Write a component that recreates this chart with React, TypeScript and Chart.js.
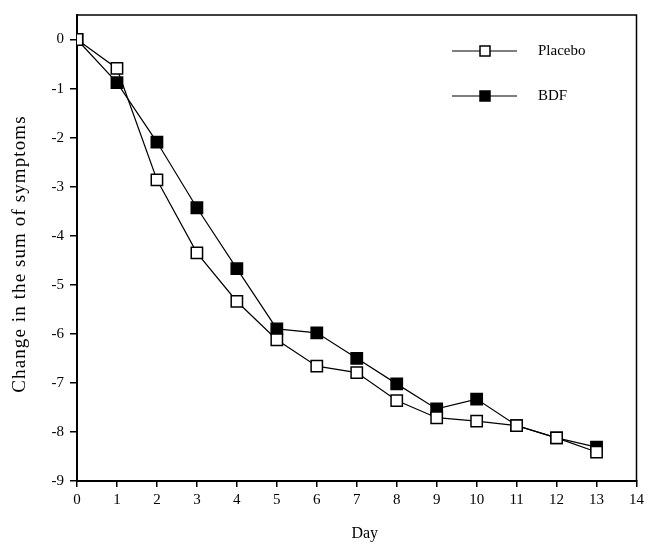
import React, { useEffect, useRef } from "react";
import { Chart, registerables } from "chart.js";

Chart.register(...registerables);

const days = [0, 1, 2, 3, 4, 5, 6, 7, 8, 9, 10, 11, 12, 13];
const placebo = [0, -0.59, -2.86, -4.35, -5.34, -6.12, -6.66, -6.79, -7.36, -7.71, -7.78, -7.87, -8.12, -8.41];
const bdf = [0, -0.88, -2.09, -3.43, -4.67, -5.9, -5.98, -6.5, -7.02, -7.53, -7.33, -7.87, -8.12, -8.31];
const legendLabels = ["Placebo", "BDF"];
const xTitle = "Day";
const yTitle = "Change in the sum of symptoms";

const FONT = "'Liberation Serif', 'Times New Roman', serif";

export default function App() {
  const ref = useRef<HTMLCanvasElement>(null);
  useEffect(() => {
    document.body.style.margin = "0";
    const canvas = ref.current!;
    const frame = {
      id: "frame",
      afterDraw(chart: any) {
        const { ctx, chartArea: a } = chart;
        ctx.save();
        ctx.strokeStyle = "#000";
        ctx.lineWidth = 1.5;
        ctx.beginPath();
        ctx.moveTo(a.left, a.top);
        ctx.lineTo(a.right, a.top);
        ctx.lineTo(a.right, a.bottom);
        ctx.stroke();
        // axis titles
        ctx.fillStyle = "#000";
        ctx.font = `16px ${FONT}`;
        ctx.textAlign = "center";
        ctx.textBaseline = "middle";
        ctx.fillText(xTitle, (a.left + a.right) / 2 + 8, 534);
        ctx.save();
        ctx.translate(20, 254);
        ctx.rotate(-Math.PI / 2);
        ctx.font = `19px ${FONT}`;
        (ctx as any).letterSpacing = "1.1px";
        ctx.fillText(yTitle, 0, 0);
        ctx.restore();
        // legend
        const items = [
          { label: legendLabels[0], fill: "#fff", y: 51 },
          { label: legendLabels[1], fill: "#000", y: 96 },
        ];
        items.forEach((it) => {
          ctx.lineWidth = 1.2;
          ctx.beginPath();
          ctx.moveTo(452, it.y);
          ctx.lineTo(517, it.y);
          ctx.stroke();
          ctx.fillStyle = it.fill;
          ctx.fillRect(480, it.y - 5, 10, 10);
          ctx.lineWidth = 1.5;
          ctx.strokeRect(480, it.y - 5, 10, 10);
          ctx.fillStyle = "#000";
          ctx.textAlign = "left";
          ctx.font = `15px ${FONT}`;
          ctx.fillText(it.label, 538, it.y);
        });
        ctx.restore();
      },
    };
    const intOnly = (s: any) => {
      s.ticks = s.ticks.filter((t: any) => Number.isInteger(t.value));
    };
    const chart = new Chart(canvas, {
      type: "line",
      data: {
        labels: days,
        datasets: [
          {
            label: legendLabels[0],
            data: days.map((d, i) => ({ x: d, y: placebo[i] })),
            borderColor: "#000",
            borderWidth: 1.2,
            backgroundColor: "#fff",
            pointStyle: "rect",
            pointRadius: 8,
            pointBorderWidth: 1.5,
            pointBackgroundColor: "#fff",
            pointBorderColor: "#000",
            tension: 0,
          },
          {
            label: legendLabels[1],
            data: days.map((d, i) => ({ x: d, y: bdf[i] })),
            borderColor: "#000",
            borderWidth: 1.2,
            backgroundColor: "#000",
            pointStyle: "rect",
            pointRadius: 8,
            pointBorderWidth: 1.5,
            pointBackgroundColor: "#000",
            pointBorderColor: "#000",
            tension: 0,
          },
        ],
      },
      options: {
        animation: false,
        responsive: false,
        layout: { padding: { top: 12, right: 10, left: 0, bottom: 0 } },
        plugins: { legend: { display: false }, tooltip: { enabled: false } },
        scales: {
          x: {
            type: "linear",
            min: 0,
            max: 14,
            afterBuildTicks: intOnly,
            ticks: { stepSize: 1, color: "#000", font: { family: FONT, size: 15 }, padding: 4, maxRotation: 0, autoSkip: false },
            grid: { drawOnChartArea: false, drawTicks: true, tickLength: 6, color: "#000", lineWidth: 1.5 },
            border: { display: true, color: "#000", width: 2 },
            afterFit: (s: any) => { s.height = 64; },
          },
          y: {
            type: "linear",
            min: -9,
            max: 0.5,
            afterBuildTicks: intOnly,
            ticks: { stepSize: 1, color: "#000", font: { family: FONT, size: 15 }, padding: 6 },
            grid: { drawOnChartArea: false, drawTicks: true, tickLength: 7, color: "#000", lineWidth: 1.5 },
            border: { display: true, color: "#000", width: 2 },
            afterFit: (s: any) => { s.width = 77; },
          },
        },
      },
      plugins: [frame],
    });
    return () => chart.destroy();
  }, []);
  return (
    <div style={{ width: 648, height: 545, background: "#fff" }}>
      <canvas ref={ref} width={648} height={545} style={{ display: "block" }} />
    </div>
  );
}
